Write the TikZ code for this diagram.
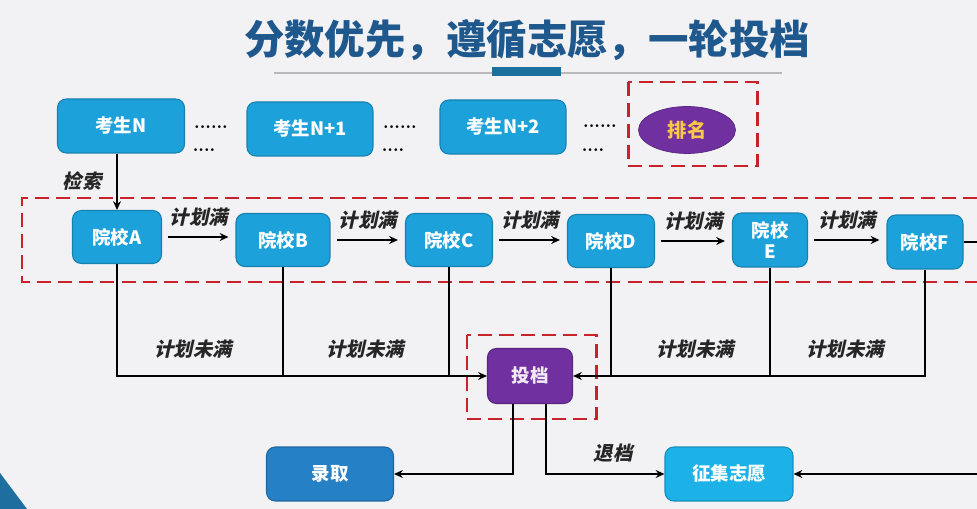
\documentclass[tikz,border=0pt]{standalone}
\usepackage{fontspec}
\newfontfamily\cjk{Noto Sans CJK SC}
\newfontfamily\cjkslant{Noto Sans CJK SC}[FakeSlant=0.22]
\usepackage{xcolor}
\definecolor{tbblue}{RGB}{29,161,219}
\definecolor{tbdark}{RGB}{38,128,198}
\definecolor{tbcyan}{RGB}{28,178,232}
\definecolor{tbpurple}{RGB}{112,48,160}
\definecolor{tbred}{RGB}{200,34,42}
\definecolor{tbtitle}{RGB}{31,88,140}
\definecolor{tbgray}{RGB}{185,185,188}
\definecolor{tbgold}{RGB}{250,200,70}
\definecolor{tbbg}{RGB}{242,242,245}
\definecolor{tbcorner}{RGB}{30,110,160}
\usetikzlibrary{arrows.meta, positioning, shapes.geometric, calc}

\tikzset{
  stubox/.style={rectangle, rounded corners=5pt, fill=tbblue, draw=tbblue!80!black, line width=0.6pt,
    text=white, font=\cjk\bfseries\fontsize{10.5}{12}\selectfont, inner sep=0pt, align=center},
  flow/.style={line width=1.1pt, -{Stealth[length=5pt,width=4.5pt]}},
  link/.style={line width=1.1pt},
  redbox/.style={draw=tbred, line width=1.7pt, dash pattern=on 8pt off 4pt},
  slantlbl/.style={font=\cjkslant\bfseries\fontsize{11}{12}\selectfont, text=black!85},
  dots/.style={font=\bfseries\fontsize{10}{10}\selectfont, inner sep=0pt},
}

\begin{document}
\begin{tikzpicture}[x=0.02cm, y=-0.02cm]
  % Background
  \useasboundingbox (0,0) rectangle (977,509);
  \fill[tbbg] (0,0) rectangle (977,509);
  \fill[tbcorner] (0,473) -- (27,509) -- (0,509) -- cycle;

  % --- Title ---
  \node[font=\cjk\bfseries\fontsize{23}{26}\selectfont, text=tbtitle] (title) at (527,40) {分数优先，遵循志愿，一轮投档};
  \draw[tbgray, line width=1.2pt] (274,73) -- (782,73);
  \fill[tbtitle!85!cyan] (492,67) rectangle (561,76);

  % --- Candidates ---
  \node[stubox, minimum width=2.54cm, minimum height=1.08cm] (kN) at (121,126) {考生N};
  \node[stubox, minimum width=2.52cm, minimum height=1.08cm] (kN1) at (310,129) {考生N+1};
  \node[stubox, minimum width=2.52cm, minimum height=1.08cm] (kN2) at (503,127) {考生N+2};
  \node[dots] (d1a) at (211,127) {......};
  \node[dots] (d1b) at (204,150) {....};
  \node[dots] (d2a) at (400,127) {......};
  \node[dots] (d2b) at (393,150) {....};
  \node[dots] (d3a) at (600,126) {......};
  \node[dots] (d3b) at (593,150) {....};
  % Ranking
  \node[ellipse, fill=tbpurple, draw=tbpurple!80!black, minimum width=1.94cm, minimum height=0.94cm,
    text=tbgold, font=\cjk\bfseries\fontsize{11}{12}\selectfont] (rank) at (687,130) {排名};
  \draw[redbox] (628,82) rectangle (757,166);

  % --- Schools ---
  \draw[redbox] (977,198) -- (22,198) -- (22,282) -- (977,282);
  \node[stubox, minimum width=1.78cm, minimum height=1.06cm] (A) at (117,237) {院校A};
  \node[stubox, minimum width=1.88cm, minimum height=1.06cm] (B) at (283,240) {院校B};
  \node[stubox, minimum width=1.74cm, minimum height=1.06cm] (C) at (449,240) {院校C};
  \node[stubox, minimum width=1.74cm, minimum height=1.06cm] (D) at (611,241) {院校D};
  \node[stubox, minimum width=1.50cm, minimum height=1.08cm] (E) at (770,240) {院校\\E};
  \node[stubox, minimum width=1.52cm, minimum height=1.08cm] (F) at (925,242) {院校F};

  \draw[flow] (kN.south -| A.north) -- (A.north);
  \node[slantlbl] (jiansuo) at (82,181) {检索};

  \draw[flow, shorten <=0.12cm, shorten >=0.14cm] (A.east) -- (A.east -| B.west)
    node[midway, above=2pt, slantlbl] {计划满};
  \draw[flow, shorten <=0.12cm, shorten >=0.14cm] (B.east) -- (B.east -| C.west)
    node[midway, above=2pt, slantlbl] {计划满};
  \draw[flow, shorten <=0.12cm, shorten >=0.14cm] (C.east) -- (C.east -| D.west)
    node[midway, above=2pt, slantlbl] {计划满};
  \draw[flow, shorten <=0.12cm, shorten >=0.14cm] (D.east) -- (D.east -| E.west)
    node[midway, above=2pt, slantlbl] {计划满};
  \draw[flow, shorten <=0.12cm, shorten >=0.14cm] (E.east) -- (E.east -| F.west)
    node[midway, above=2pt, slantlbl] {计划满};
  \coordinate (fedge) at (977,242);
  \draw[link] (F.east) -- (fedge);

  % --- Delivery ---
  \node[stubox, fill=tbpurple, draw=tbpurple!80!black, text=white!90!tbpurple,
    minimum width=1.70cm, minimum height=1.10cm] (tou) at (530,376) {投档};
  \draw[redbox] (467,335) rectangle (596,419);

  \draw[flow] (A.south) |- (tou.west);
  \draw[link] (B.south) -- (B.south |- tou.west);
  \draw[link] (C.south) -- (C.south |- tou.west);
  \draw[flow] (F.south) |- (tou.east);
  \draw[link] (D.south) -- (D.south |- tou.east);
  \draw[link] (E.south) -- (E.south |- tou.east);
  \node[slantlbl] (wm1) at (193,349) {计划未满};
  \node[slantlbl] (wm2) at (365,349) {计划未满};
  \node[slantlbl] (wm3) at (695,349) {计划未满};
  \node[slantlbl] (wm4) at (845,349) {计划未满};

  % --- Outcome ---
  \node[stubox, fill=tbdark, draw=tbdark!80!black, minimum width=2.54cm, minimum height=1.08cm] (luqu) at (330,474) {录取};
  \node[stubox, fill=tbcyan, draw=tbcyan!80!black, minimum width=2.56cm, minimum height=1.08cm] (zhengji) at (729,474) {征集志愿};
  \draw[flow] ($(tou.south)+(-17,0)$) |- (luqu.east);
  \draw[flow] ($(tou.south)+(16,0)$) |- (zhengji.west);
  \node[slantlbl] (tuidang) at (613,453) {退档};
  \coordinate (redge) at (977,474);
  \draw[flow] (redge) -- (zhengji.east);
\end{tikzpicture}
\end{document}
